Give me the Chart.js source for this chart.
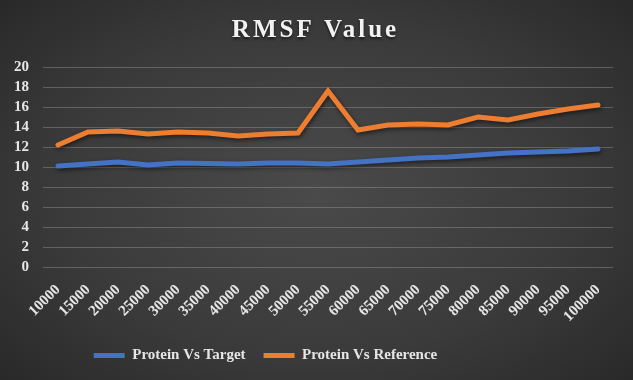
<!DOCTYPE html>
<html>
<head>
<meta charset="utf-8">
<script src="https://cdn.jsdelivr.net/npm/chart.js@4/dist/chart.umd.min.js"></script>
<style>
  html, body { margin: 0; padding: 0; }
  body { width: 633px; height: 380px; overflow: hidden;
    background: radial-gradient(ellipse 75% 80% at 50% 50%, #4a4a4a 0%, #3a3a3a 55%, #252525 100%); }
  #wrap { width: 633px; height: 380px; position: relative; }
</style>
</head>
<body>
<div id="wrap"><canvas id="c" width="633" height="380"></canvas></div>
<script>
const categories = ["10000","15000","20000","25000","30000","35000","40000","45000","50000","55000","60000","65000","70000","75000","80000","85000","90000","95000","100000"];
const proteinVsTarget = [10.1, 10.3, 10.5, 10.2, 10.4, 10.35, 10.3, 10.4, 10.4, 10.3, 10.5, 10.7, 10.9, 11.0, 11.2, 11.4, 11.5, 11.6, 11.8];
const proteinVsReference = [12.2, 13.5, 13.6, 13.3, 13.5, 13.4, 13.1, 13.3, 13.4, 17.6, 13.7, 14.2, 14.3, 14.2, 15.0, 14.7, 15.3, 15.8, 16.2];
const yTicks = [0, 2, 4, 6, 8, 10, 12, 14, 16, 18, 20];

const txt = '#e6e6e6';
const serif = '"Liberation Serif", "Times New Roman", serif';

const shadowPlugin = {
  id: 'lineShadow',
  beforeDatasetsDraw(chart) {
    const ctx = chart.ctx; ctx.save();
    ctx.shadowColor = 'rgba(0,0,0,0.55)'; ctx.shadowBlur = 4; ctx.shadowOffsetX = 1; ctx.shadowOffsetY = 2;
  },
  afterDatasetsDraw(chart) { chart.ctx.restore(); }
};
const titleSpacing = {
  id: 'titleSpacing',
  afterLayout(chart) {
    if (chart.titleBlock) { chart.titleBlock.left += 7; chart.titleBlock.right += 7; }
    if (chart.legend) { chart.legend.right -= 86; }
  },
  beforeDraw(chart) {
    const tb = chart.titleBlock;
    if (tb && !tb._wrapped) {
      const orig = tb.draw;
      tb.draw = function () { const ctx = this.ctx; ctx.save(); ctx.letterSpacing = '3px';
        ctx.shadowColor = 'rgba(0,0,0,0.6)'; ctx.shadowBlur = 3; ctx.shadowOffsetY = 2;
        orig.apply(this, arguments); ctx.restore(); };
      tb._wrapped = true;
    }
  }
};

new Chart(document.getElementById('c'), {
  type: 'line',
  data: {
    labels: categories,
    datasets: [
      { label: 'Protein Vs Target', data: proteinVsTarget, borderColor: '#4472c4', backgroundColor: '#4472c4', borderWidth: 5, pointRadius: 0, tension: 0, borderCapStyle: 'round' },
      { label: 'Protein Vs Reference', data: proteinVsReference, borderColor: '#ed7d31', backgroundColor: '#ed7d31', borderWidth: 5, pointRadius: 0, tension: 0, borderCapStyle: 'round' }
    ]
  },
  plugins: [shadowPlugin, titleSpacing],
  options: {
    responsive: false,
    animation: false,
    layout: { padding: { left: 4, right: 20, top: 6, bottom: 7 } },
    plugins: {
      title: { display: true, text: 'RMSF Value', color: '#f2f2f2', font: { family: serif, size: 25, weight: 'bold' }, padding: { top: 10, bottom: 21 } },
      legend: {
        position: 'bottom',
        labels: {
          color: txt, font: { family: serif, size: 15, weight: 'bold' },
          boxWidth: 31, boxHeight: 5, padding: 18,
          generateLabels(chart) {
            return Chart.defaults.plugins.legend.labels.generateLabels(chart).map(l => Object.assign(l, { lineWidth: 0, fillStyle: l.strokeStyle }));
          }
        }
      },
      tooltip: { enabled: false }
    },
    scales: {
      x: {
        offset: true,
        grid: { display: false, drawTicks: false },
        border: { display: false },
        ticks: { color: txt, font: { family: serif, size: 15, weight: 'bold' }, minRotation: 45, maxRotation: 45, autoSkip: false, padding: 14 },
        afterFit(axis) { axis.height = 63; }
      },
      y: {
        min: 0, max: 20,
        afterBuildTicks(axis) { axis.ticks = yTicks.map(v => ({ value: v })); },
        grid: { color: 'rgba(150,150,150,0.45)', lineWidth: 1, drawTicks: false },
        border: { display: false },
        ticks: { color: txt, font: { family: serif, size: 15, weight: 'bold' }, padding: 14, autoSkip: false },
        afterFit(axis) { axis.width = 39; }
      }
    }
  }
});
</script>
</body>
</html>
